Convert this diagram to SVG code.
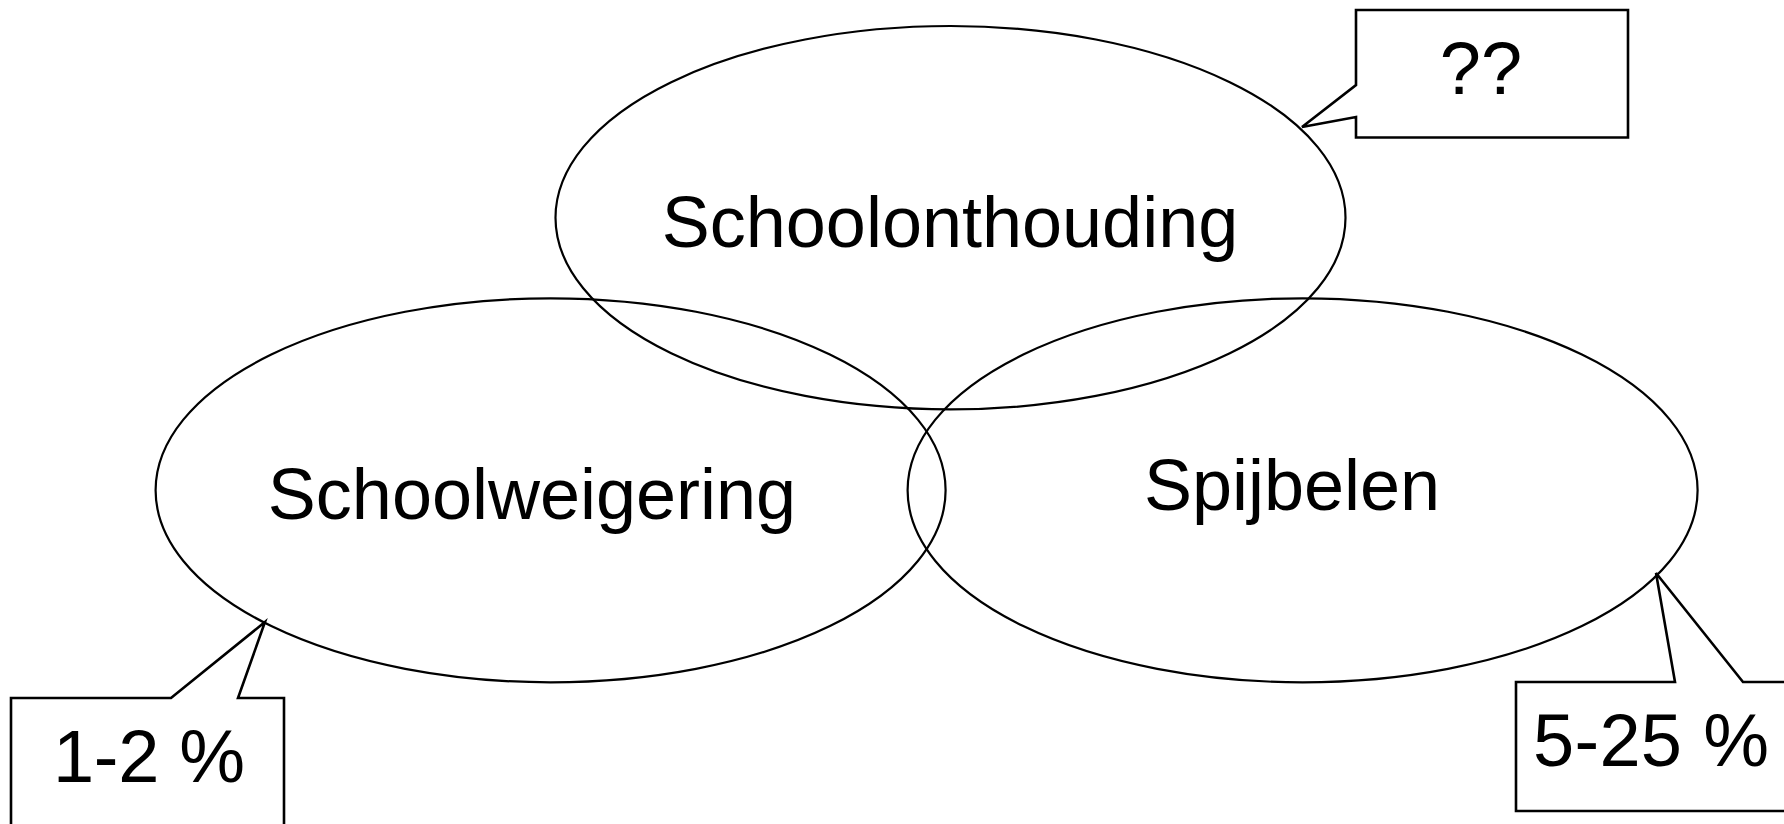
<svg xmlns="http://www.w3.org/2000/svg" width="1784" height="824" viewBox="0 0 1784 824">
<style>
.ell{fill:none;stroke:#000;stroke-width:2.2}
.call{fill:#fff;stroke:#000;stroke-width:2.6;stroke-linejoin:miter}
.t{font-family:"Liberation Sans",Arial,sans-serif;font-size:72px;fill:#000;text-anchor:middle}
.c{font-size:74px}
</style>
<rect width="1784" height="824" fill="#fff"/>
<g id="schoolonthouding">
<ellipse class="ell" cx="950.5" cy="217.7" rx="395" ry="191.7"/>
<text class="t" x="950" y="247">Schoolonthouding</text>
</g>
<g id="schoolweigering">
<ellipse class="ell" cx="550.6" cy="490.3" rx="395" ry="192"/>
<text class="t" x="532" y="519">Schoolweigering</text>
</g>
<g id="spijbelen">
<ellipse class="ell" cx="1302.6" cy="490.3" rx="395" ry="192"/>
<text class="t" x="1292" y="510">Spijbelen</text>
</g>
<g id="connectors">
<g id="callout-qq">
<polygon class="call" points="1356,10 1628,10 1628,137.5 1356,137.5 1356,117 1302,127 1356,85"/>
<text class="t c" x="1481" y="94">??</text>
</g>
<g id="callout-12">
<polygon class="call" points="11,698 171,698 265,622 238,698 284,698 284,840 11,840"/>
<text class="t c" x="149" y="782" textLength="192" lengthAdjust="spacing">1-2 %</text>
</g>
<g id="callout-525">
<polygon class="call" points="1516,682 1675,682 1656,573 1743,682 1800,682 1800,811 1516,811"/>
<text class="t c" x="1651" y="766" textLength="236" lengthAdjust="spacing">5-25 %</text>
</g>
</g>
</svg>
